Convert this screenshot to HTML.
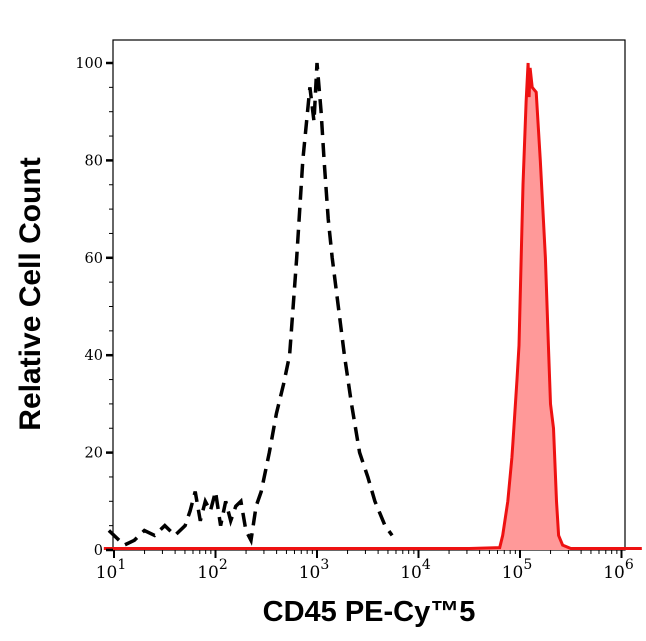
<!DOCTYPE html>
<html><head><meta charset="utf-8"><style>
body{margin:0;background:#fff;}
svg{display:block;font-family:"DejaVu Serif","Liberation Serif",serif;}
</style></head><body>
<svg id="c" width="646" height="641"></svg>
<script>
const blackLog=[0.95,1.0,1.1,1.2,1.3,1.4,1.5,1.6,1.7,1.75,1.8,1.85,1.9,1.95,2.0,2.05,2.1,2.15,2.2,2.25,2.3,2.35,2.4,2.45,2.53,2.6,2.67,2.73,2.8,2.86,2.93,2.97,3.0,3.04,3.07,3.11,3.15,3.21,3.27,3.34,3.42,3.5,3.57,3.67,3.74];
const blackVal=[4,3,1,2,4,3,5,3,5,8,12,6,10,8,12,5,10,6,9,10,4,2,9,12,20,28,34,40,60,80,95,88,100,90,80,68,60,50,40,30,20,15,10,5,3];
const redLog=[4.5,4.8,4.83,4.88,4.92,4.93,4.97,4.99,5.03,5.06,5.08,5.09,5.1,5.12,5.16,5.2,5.25,5.28,5.3,5.33,5.36,5.38,5.42,5.5,6.2];
const redVal=[0.3,0.5,3,10,19,22,35,42,75,92,100,93,99,95,94,80,60,42,30,25,10,3,1,0.3,0.3];
const yTicks=[0,20,40,60,80,100];
const xDecades=[1,2,3,4,5,6];
const NS="http://www.w3.org/2000/svg";
const svg=document.getElementById('c');
const L=113,R=625,T=40,B=550;
const X=l=>114+101.5*(l-1);
const Y=v=>550-4.87*v;
function mk(t,a,p){const e=document.createElementNS(NS,t);for(const k in a)e.setAttribute(k,a[k]);(p||svg).appendChild(e);return e;}
let f=mk('rect',{x:L,y:T,width:R-L,height:B-T,fill:'none',stroke:'#000','stroke-width':1.2});


let rp=redLog.map((l,i)=>X(l).toFixed(1)+','+Y(redVal[i]).toFixed(1));
let rf=mk('polygon',{points:X(redLog[0])+','+B+' '+rp.join(' ')+' '+X(redLog[redLog.length-1])+','+B,fill:'#ff9999',stroke:'none'});


let rl=mk('polyline',{points:X(0.9)+','+Y(0.3)+' '+rp.join(' '),fill:'none',stroke:'#ee1111','stroke-width':3});


let bp=blackLog.map((l,i)=>X(l).toFixed(1)+','+Y(blackVal[i]).toFixed(1));
let bl=mk('polyline',{points:bp.join(' '),fill:'none',stroke:'#000','stroke-width':3.5,'stroke-dasharray':'14 8'});


for(let v=0;v<=100;v+=5){let maj=v%20===0;let t=mk('line',{x1:L-(maj?7:4),x2:L,y1:Y(v),y2:Y(v),stroke:'#000','stroke-width':maj?2.5:1});}
yTicks.forEach(v=>{let t=mk('text',{x:L-10,y:Y(v)+5,'text-anchor':'end','font-size':14.5});t.textContent=v;});
xDecades.forEach((d,i)=>{
 let t=mk('line',{x1:X(d),x2:X(d),y1:B,y2:B+8,stroke:'#000','stroke-width':2});
 if(i<xDecades.length-1)for(let m=2;m<10;m++){let xx=X(d+Math.log10(m));let mt=mk('line',{x1:xx,x2:xx,y1:B,y2:B+4,stroke:'#000','stroke-width':1});}
 let lb=mk('text',{x:X(d)-3,y:B+28,'text-anchor':'middle','font-size':17});
 lb.textContent='10';let s=mk('tspan',{dy:-9,'font-size':14},lb);s.textContent=d;
});
let yt=mk('text',{x:0,y:0,transform:'translate(40,294) rotate(-90)','text-anchor':'middle','font-size':30,'font-weight':'bold','font-family':'Liberation Sans,sans-serif'});
yt.textContent='Relative Cell Count';
let xt=mk('text',{x:369,y:621,'text-anchor':'middle','font-size':29,'font-weight':'bold','font-family':'Liberation Sans,sans-serif'});
xt.textContent='CD45 PE-Cy™5';
</script>
</body></html>
